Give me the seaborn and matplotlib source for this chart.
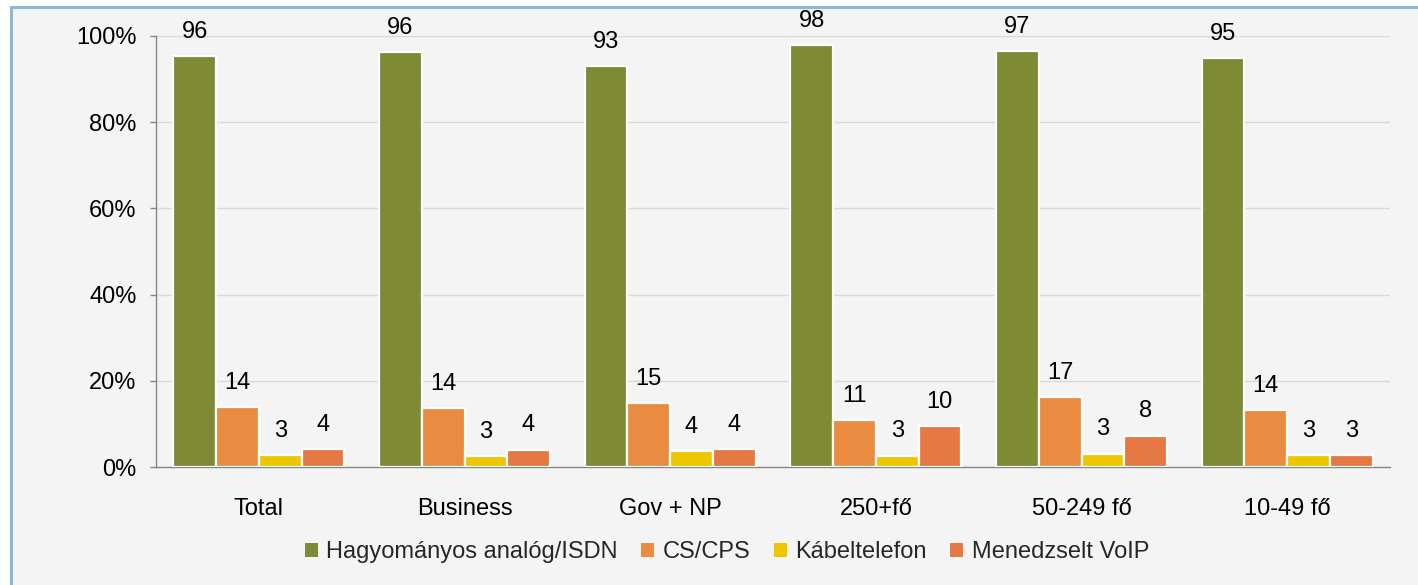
import matplotlib
matplotlib.use('Agg')
import matplotlib.pyplot as plt
import seaborn as sns
import pandas as pd
from matplotlib.patches import Rectangle

categories = ['Total', 'Business', 'Gov + NP', '250+fő', '50-249 fő', '10-49 fő']
series = ['Hagyományos analóg/ISDN', 'CS/CPS', 'Kábeltelefon', 'Menedzselt VoIP']
analog_isdn = [95.4, 96.3, 93.0, 97.9, 96.5, 94.9]
cs_cps = [13.9, 13.7, 14.8, 10.9, 16.2, 13.2]
kabeltelefon = [2.8, 2.5, 3.7, 2.6, 3.1, 2.8]
menedzselt_voip = [4.1, 4.0, 4.2, 9.4, 7.3, 2.8]
labels_analog = ['96', '96', '93', '98', '97', '95']
labels_cs = ['14', '14', '15', '11', '17', '14']
labels_kabel = ['3', '3', '4', '3', '3', '3']
labels_voip = ['4', '4', '4', '10', '8', '3']
yticks = [0, 20, 40, 60, 80, 100]
colors = ['#7e8a34', '#e98c42', '#eec600', '#e67844']

sns.set_theme(style='white')
plt.rcParams['font.family'] = ['Liberation Sans', 'DejaVu Sans']
FS = 17

values = [analog_isdn, cs_cps, kabeltelefon, menedzselt_voip]
labels = [labels_analog, labels_cs, labels_kabel, labels_voip]
rows = []
for s, vals in zip(series, values):
    for c, v in zip(categories, vals):
        rows.append({'cat': c, 'series': s, 'value': v})
df = pd.DataFrame(rows)

W, H = 1418, 585
fig = plt.figure(figsize=(W / 100, H / 100), dpi=100, facecolor='white')
fig.patches.append(Rectangle((11 / W, -0.05), 1.1, 1 - 6.5 / H + 0.05, transform=fig.transFigure,
                             facecolor='#f4f4f4', edgecolor='#8ab8d8', linewidth=2.2, zorder=-10))

ax = fig.add_axes([156 / W, 1 - 467 / H, (1390 - 156) / W, (467 - 36) / H])
ax.set_facecolor('none')

sns.barplot(data=df, x='cat', y='value', hue='series', order=categories, hue_order=series,
            palette=colors, saturation=1, width=0.83, edgecolor='white', linewidth=1.6,
            errorbar=None, ax=ax, zorder=3)

handles, hlabels = ax.get_legend_handles_labels()
if ax.get_legend() is not None:
    ax.get_legend().remove()

for cont, labs in zip(ax.containers, labels):
    for bar, lab in zip(cont, labs):
        ax.annotate(lab, (bar.get_x() + bar.get_width() / 2, bar.get_height()),
                    xytext=(0, 17.5), textcoords='offset points', ha='center', va='center',
                    fontsize=FS, color='black', annotation_clip=False)

ax.set_xlim(-0.5, len(categories) - 0.5)
ax.set_ylim(0, 100)
ax.set_yticks(yticks)
ax.set_yticklabels([f'{t}%' for t in yticks], fontsize=FS, color='black')
ax.set_xticks(range(len(categories)))
ax.set_xticklabels(categories, fontsize=FS, color='black')
ax.set_xticks([i - 0.5 for i in range(len(categories) + 1)], minor=True)
ax.tick_params(axis='x', which='major', length=0, pad=22)
ax.tick_params(axis='x', which='minor', length=6, width=1, color='#868686', direction='out')
ax.tick_params(axis='y', which='major', length=4, width=1, color='#868686', direction='out', pad=10, left=True)
ax.set_xlabel('')
ax.set_ylabel('')
ax.yaxis.grid(True, color='#d9d9d9', linewidth=1, zorder=0)
ax.set_axisbelow(True)
for s in ['top', 'right']:
    ax.spines[s].set_visible(False)
for s in ['left', 'bottom']:
    ax.spines[s].set_color('#868686')
    ax.spines[s].set_linewidth(1)

for h in handles:
    h.set_edgecolor('none')
fig.legend(handles, hlabels, loc='center', bbox_to_anchor=(727 / W, 1 - 552 / H), ncol=4,
           frameon=False, fontsize=FS, handlelength=0.55, handleheight=0.55,
           handletextpad=0.35, columnspacing=1.0, borderaxespad=0)

fig.savefig('out.png', dpi=100, facecolor='white')
